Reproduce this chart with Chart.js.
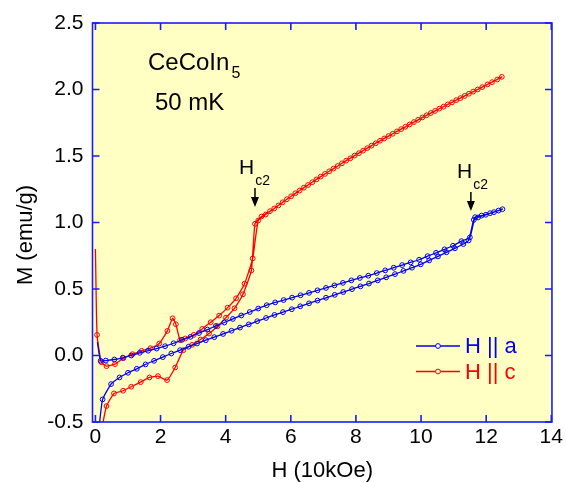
<!DOCTYPE html>
<html>
<head>
<meta charset="utf-8">
<script src="https://cdn.jsdelivr.net/npm/chart.js@4/dist/chart.umd.min.js"></script>
<style>
  html, body { margin: 0; padding: 0; background: #fff; }
</style>
</head>
<body>
<canvas id="mh" width="566" height="482"></canvas>
<script>
// M(H) loops at 50 mK; H in 10 kOe, M in emu/g
// H || a : rising-field branch, then falling-field branch
var aRiseH = [0.12, 0.22, 0.48, 0.74, 1.0, 1.27, 1.54, 1.8, 2.07, 2.33, 2.6, 2.86, 3.12, 3.39, 3.65, 3.92, 4.18, 4.44, 4.71, 4.97, 5.24, 5.5, 5.76, 6.03, 6.29, 6.56, 6.82, 7.08, 7.35, 7.61, 7.88, 8.14, 8.4, 8.67, 8.93, 9.2, 9.46, 9.72, 9.99, 10.25, 10.52, 10.78, 11.04, 11.3, 11.46, 11.62, 11.75, 11.99, 12.24, 12.5];
var aRiseM = [-0.52, -0.33, -0.215, -0.165, -0.13, -0.10, -0.067, -0.04, -0.012, 0.015, 0.04, 0.066, 0.09, 0.115, 0.138, 0.162, 0.186, 0.21, 0.234, 0.258, 0.282, 0.305, 0.326, 0.348, 0.37, 0.392, 0.413, 0.434, 0.456, 0.477, 0.499, 0.52, 0.541, 0.565, 0.588, 0.612, 0.636, 0.66, 0.685, 0.715, 0.745, 0.776, 0.806, 0.838, 0.865, 1.02, 1.038, 1.058, 1.078, 1.10];
var aFallH = [12.38, 12.12, 11.86, 11.66, 11.5, 11.24, 10.98, 10.72, 10.46, 10.2, 9.94, 9.68, 9.42, 9.16, 8.9, 8.64, 8.38, 8.12, 7.86, 7.6, 7.34, 7.08, 6.82, 6.56, 6.3, 6.04, 5.78, 5.52, 5.26, 5.0, 4.74, 4.48, 4.22, 3.96, 3.7, 3.44, 3.18, 2.92, 2.66, 2.4, 2.14, 1.88, 1.62, 1.36, 1.1, 0.84, 0.58, 0.32, 0.16, 0.06];
var aFallM = [1.09, 1.07, 1.052, 1.04, 0.888, 0.86, 0.825, 0.798, 0.772, 0.747, 0.72, 0.70, 0.68, 0.66, 0.64, 0.62, 0.60, 0.583, 0.565, 0.546, 0.527, 0.508, 0.49, 0.471, 0.453, 0.435, 0.417, 0.399, 0.378, 0.353, 0.327, 0.301, 0.275, 0.248, 0.222, 0.195, 0.169, 0.14, 0.118, 0.092, 0.07, 0.052, 0.036, 0.02, 0.0, -0.017, -0.03, -0.038, -0.04, 0.10];

// H || c
var cRiseH = [0.22, 0.34, 0.57, 0.85, 1.1, 1.39, 1.66, 1.92, 2.2, 2.45, 2.7, 2.97, 3.23, 3.49, 3.75, 4.01, 4.27, 4.53, 4.79, 4.9, 5.1, 5.36, 5.62, 5.88, 6.14, 6.4, 6.66, 6.92, 7.18, 7.44, 7.7, 7.96, 8.22, 8.48, 8.74, 9.0, 9.26, 9.52, 9.78, 10.04, 10.3, 10.56, 10.82, 11.08, 11.34, 11.6, 11.88, 12.18, 12.48];
var cRiseM = [-0.52, -0.38, -0.285, -0.265, -0.235, -0.20, -0.165, -0.155, -0.185, -0.09, 0.04, 0.08, 0.12, 0.165, 0.22, 0.285, 0.355, 0.46, 0.64, 0.99, 1.045, 1.085, 1.128, 1.175, 1.22, 1.262, 1.303, 1.345, 1.385, 1.425, 1.465, 1.503, 1.54, 1.578, 1.615, 1.65, 1.685, 1.72, 1.755, 1.79, 1.823, 1.856, 1.888, 1.92, 1.952, 1.984, 2.018, 2.055, 2.095];
var cFallH = [12.34, 12.04, 11.74, 11.47, 11.21, 10.95, 10.69, 10.43, 10.17, 9.91, 9.65, 9.39, 9.13, 8.87, 8.61, 8.35, 8.09, 7.83, 7.57, 7.31, 7.05, 6.79, 6.53, 6.27, 6.01, 5.75, 5.49, 5.23, 5.0, 4.83, 4.58, 4.32, 4.06, 3.8, 3.54, 3.28, 3.02, 2.76, 2.6, 2.47, 2.37, 2.21, 1.96, 1.69, 1.42, 1.14, 0.86, 0.6, 0.34, 0.18, 0.05, 0.0];
var cFallM = [2.075, 2.038, 2.0, 1.968, 1.935, 1.903, 1.871, 1.839, 1.806, 1.772, 1.737, 1.702, 1.667, 1.632, 1.596, 1.559, 1.521, 1.483, 1.445, 1.405, 1.365, 1.324, 1.282, 1.24, 1.197, 1.152, 1.105, 1.06, 1.015, 0.73, 0.54, 0.43, 0.36, 0.30, 0.25, 0.20, 0.155, 0.128, 0.115, 0.235, 0.28, 0.185, 0.09, 0.055, 0.035, 0.01, -0.02, -0.065, -0.08, -0.05, 0.155, 0.80];

var seriesNames = ['H || a', 'H || c'];
var xTicks = [0, 2, 4, 6, 8, 10, 12, 14];
var yTicks = [-0.5, 0, 0.5, 1, 1.5, 2, 2.5];
var hc2Field = [4.9, 11.53];

var FONT = "'Liberation Sans', Arial, sans-serif";
var BLUE = '#0000ee';
var RED = '#ff0000';
var FRAME = '#1a1aff';
var MARK = 2.4;

function pairs(h, m) {
  return h.map(function (v, i) { return { x: v, y: m[i] }; });
}

// no marker on the two loose ends of each trace
function markerSize(ctx) {
  var n = ctx.dataset.data.length;
  return (ctx.dataIndex === 0 || ctx.dataIndex === n - 1) ? 0 : MARK;
}

function loop(label, color, data) {
  return {
    label: label,
    data: data,
    showLine: true,
    borderColor: color,
    borderWidth: 1.3,
    tension: 0.15,
    pointRadius: markerSize,
    pointBorderWidth: 1,
    pointBorderColor: color,
    pointBackgroundColor: 'rgba(0,0,0,0)'
  };
}

function drawHc2(c, xs, ys, h, textX, textY) {
  var ax = xs.getPixelForValue(h);
  c.fillStyle = '#000';
  c.strokeStyle = '#000';
  c.font = '21px ' + FONT;
  c.textAlign = 'left';
  c.textBaseline = 'alphabetic';
  c.fillText('H', textX, textY);
  var w = c.measureText('H').width;
  c.font = '14px ' + FONT;
  c.fillText('c2', textX + w + 1, textY + 11);
  // arrow pointing down at the transition
  var top = textY + 14, tip = textY + 33;
  c.lineWidth = 1.5;
  c.beginPath();
  c.moveTo(ax, top);
  c.lineTo(ax, tip - 6);
  c.stroke();
  c.beginPath();
  c.moveTo(ax - 4, tip - 10);
  c.lineTo(ax + 4, tip - 10);
  c.lineTo(ax, tip);
  c.closePath();
  c.fill();
}

var frame = {
  id: 'frame',
  beforeDraw: function (chart) {
    var a = chart.chartArea, c = chart.ctx;
    c.save();
    c.fillStyle = '#ffffc4';
    c.fillRect(a.left, a.top, a.right - a.left, a.bottom - a.top);
    c.restore();
  },
  afterDraw: function (chart) {
    var a = chart.chartArea, c = chart.ctx;
    var xs = chart.scales.x, ys = chart.scales.y;
    c.save();
    c.strokeStyle = FRAME;
    c.lineWidth = 1.6;
    c.strokeRect(a.left, a.top, a.right - a.left, a.bottom - a.top);
    c.beginPath();
    xTicks.forEach(function (v) {
      var p = xs.getPixelForValue(v);
      c.moveTo(p, a.bottom); c.lineTo(p, a.bottom - 7);
      c.moveTo(p, a.top); c.lineTo(p, a.top + 7);
    });
    yTicks.forEach(function (v) {
      var p = ys.getPixelForValue(v);
      c.moveTo(a.left, p); c.lineTo(a.left + 7, p);
      c.moveTo(a.right, p); c.lineTo(a.right - 7, p);
    });
    c.stroke();

    // axis titles
    c.fillStyle = '#000';
    c.font = '22px ' + FONT;
    c.textAlign = 'center';
    c.textBaseline = 'alphabetic';
    c.fillText('H (10kOe)', (a.left + a.right) / 2, 477);
    c.save();
    c.translate(32, 235);
    c.rotate(-Math.PI / 2);
    c.fillText('M (emu/g)', 0, 0);
    c.restore();

    // sample label
    c.textAlign = 'left';
    c.font = '24px ' + FONT;
    c.fillText('CeCoIn', 148, 70);
    var w = c.measureText('CeCoIn').width;
    c.font = '16px ' + FONT;
    c.fillText('5', 148 + w + 2, 78);
    c.font = '24px ' + FONT;
    c.fillText('50 mK', 155, 110);

    drawHc2(c, xs, ys, hc2Field[0], 239, 174);
    drawHc2(c, xs, ys, hc2Field[1], 457, 178);

    // legend: line with open marker, then label in series colour
    chart.data.datasets.forEach(function (ds, i) {
      var y = 346 + i * 25.5;
      c.strokeStyle = ds.borderColor;
      c.lineWidth = 1.3;
      c.beginPath();
      c.moveTo(416, y); c.lineTo(460, y);
      c.stroke();
      c.beginPath();
      c.arc(438, y, MARK, 0, Math.PI * 2);
      c.fillStyle = '#ffffc4';
      c.fill();
      c.lineWidth = 1;
      c.stroke();
      c.fillStyle = ds.borderColor;
      c.font = '22px ' + FONT;
      c.textBaseline = 'middle';
      c.fillText(ds.label, 465, y + 1);
    });
    c.restore();
  }
};

new Chart(document.getElementById('mh'), {
  type: 'scatter',
  data: {
    datasets: [
      loop(seriesNames[0], BLUE, pairs(aRiseH, aRiseM).concat(pairs(aFallH, aFallM))),
      loop(seriesNames[1], RED, pairs(cRiseH, cRiseM).concat(pairs(cFallH, cFallM)))
    ]
  },
  options: {
    responsive: false,
    animation: false,
    layout: { padding: { top: 23, right: 13, left: 0, bottom: 0 } },
    plugins: { legend: { display: false }, tooltip: { enabled: false } },
    scales: {
      x: {
        type: 'linear',
        min: -0.09,
        max: 14.02,
        afterBuildTicks: function (s) { s.ticks = xTicks.map(function (v) { return { value: v }; }); },
        afterFit: function (s) { s.height = 60; },
        grid: { display: false, drawTicks: false },
        border: { display: false },
        ticks: { color: '#000', font: { size: 21, family: FONT }, padding: 3, maxRotation: 0, autoSkip: false }
      },
      y: {
        type: 'linear',
        min: -0.5,
        max: 2.5,
        afterBuildTicks: function (s) { s.ticks = yTicks.map(function (v) { return { value: v }; }); },
        afterFit: function (s) { s.width = 92.5; },
        grid: { display: false, drawTicks: false },
        border: { display: false },
        ticks: {
          color: '#000', font: { size: 21, family: FONT }, padding: 9,
          callback: function (v) { return v.toFixed(1); }
        }
      }
    }
  },
  plugins: [frame]
});
</script>
</body>
</html>
